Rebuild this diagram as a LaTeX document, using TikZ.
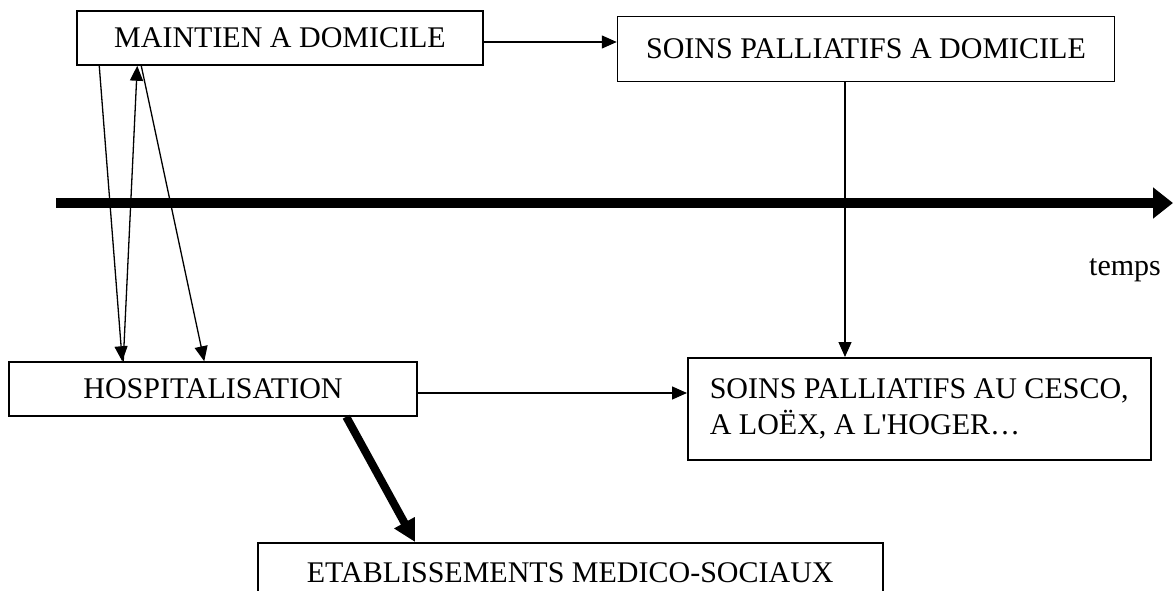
\documentclass[tikz,border=0pt]{standalone}
\usepackage{fontspec}
\setmainfont{Liberation Serif}
\usetikzlibrary{arrows.meta}

\begin{document}
\begin{tikzpicture}[x=1pt,y=-1pt,
  box/.style={draw,line width=1.5pt,inner sep=0pt,font=\fontsize{30}{36}\selectfont},
  thin/.style={line width=1.3pt,-{Triangle[length=15pt,width=13pt]}},
  thick/.style={line width=8pt,-{Triangle[length=22pt,width=22pt]}}]

\useasboundingbox (0,0) rectangle (1173,591);

\node[box,minimum width=406,minimum height=54] (maintien) at (280,38) {MAINTIEN A DOMICILE};
\node[box,minimum width=497,minimum height=65] (soinsdom) at (866,49) {SOINS PALLIATIFS A DOMICILE};
\node[box,minimum width=408,minimum height=54] (hospit) at (213,389) {HOSPITALISATION};
\node[box,anchor=north west,minimum width=463,minimum height=102,align=left] (cesco) at (687,357)
  {SOINS PALLIATIFS AU CESCO,\\A LO\"EX, A L\textquotesingle HOGER\ldots};
\node[box,anchor=north west,minimum width=625,minimum height=60] (etab) at (257,542) {ETABLISSEMENTS MEDICO-SOCIAUX};

\coordinate (t0) at (56,203);
\coordinate (t1) at (1173,203);
\draw[line width=10pt,-{Triangle[length=20pt,width=30pt]}] (t0) -- (t1);
\node[font=\fontsize{30}{36}\selectfont] (temps) at (1125,270) {temps};

\draw[thin] ([yshift=-4pt]maintien.east) -- ([yshift=-4pt]maintien.east -| soinsdom.west);
\draw[thin] ([xshift=-21pt]soinsdom.south) -- ([xshift=-21pt]soinsdom.south |- cesco.north);
\draw[thin] ([yshift=-4pt]hospit.east) -- ([yshift=-4pt]hospit.east -| cesco.west);

\draw[thin] ([xshift=23pt]maintien.south west) -- ([xshift=114pt]hospit.north west);
\draw[thin] ([xshift=115pt]hospit.north west) -- ([xshift=61pt]maintien.south west);
\draw[thin] ([xshift=65pt]maintien.south west) -- ([xshift=196pt]hospit.north west);

\draw[thick] ([xshift=338pt]hospit.south west) -- ([xshift=158pt]etab.north west);

\end{tikzpicture}
\end{document}
